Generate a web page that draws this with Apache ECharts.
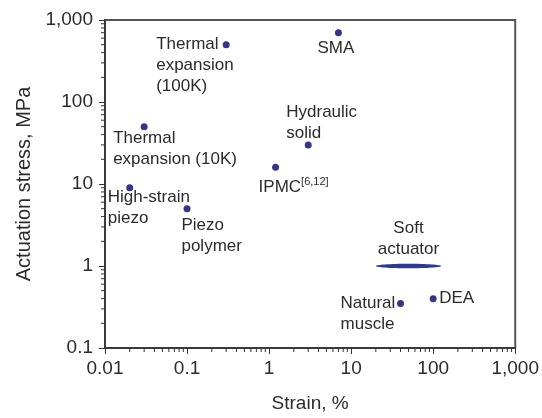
<!DOCTYPE html>
<html>
<head>
<meta charset="utf-8">
<script src="https://cdn.jsdelivr.net/npm/echarts@6/dist/echarts.min.js"></script>
<style>
  html, body { margin: 0; padding: 0; background: #fff; }
  #chart { width: 542px; height: 418px; }
</style>
</head>
<body>
<div id="chart"></div>
<script>
// 材料数据
const names = ['Thermal\nexpansion\n(100K)', 'SMA', 'Hydraulic\nsolid', 'IPMC',
  'Thermal\nexpansion (10K)', 'High-strain\npiezo', 'Piezo\npolymer', 'Natural\nmuscle', 'DEA']
const strain = [0.3, 7, 3, 1.2, 0.03, 0.02, 0.1, 40, 100]
const stress = [500, 700, 30, 16, 50, 9, 5, 0.35, 0.4]

// soft actuator 区间
const softName = 'Soft\nactuator'
const softStrain = [20, 125]
const softStress = 1

// 坐标轴刻度
const xTicks = [0.01, 0.1, 1, 10, 100, 1000]
const yTicks = [0.1, 1, 10, 100, 1000]
const minorMult = [2, 3, 4, 5, 6, 7, 8, 9]

// 标签相对点中心的偏移（左上角）
const labelOffsets = [[-70, -11], [-21, 5.5], [-22, -43], [-17, 9.5],
  [-31, 1.3], [-22, -1], [-5.6, 6], [-60, -10.5], [6, -10.5]]

const font = "'Liberation Sans', Arial, Helvetica, sans-serif"
const textColor = '#2b2b2b'
const dotColor = '#35358e'
const symSize = 7

const xMinor = xTicks.slice(0, -1).flatMap(d => minorMult.map(m => d * m))
const yMinor = yTicks.slice(0, -1).flatMap(d => minorMult.map(m => d * m))

const fmt = v => {
  const n = Number(Number(v).toPrecision(3))
  return n >= 1000 ? n.toLocaleString('en-US') : String(n)
}

const chart = echarts.init(document.getElementById('chart'))

const points = names.map((n, i) => ({
  value: [strain[i], stress[i]],
  label: {
    show: true,
    formatter: i === 3 ? '{a|IPMC}{s|[6,12]}' : n,
    position: [labelOffsets[i][0] + symSize / 2, labelOffsets[i][1] + symSize / 2]
  }
}))

const option = {
  animation: false,
  backgroundColor: '#fff',
  grid: {
    left: 105, right: 25, top: 20, bottom: 65,
    show: true, borderColor: '#555', borderWidth: 2
  },
  xAxis: {
    type: 'log', logBase: 10, min: 0.01, max: 1000,
    name: 'Strain, %', nameLocation: 'middle', nameGap: 46,
    nameTextStyle: { fontSize: 19, color: textColor, fontFamily: font },
    axisLine: { lineStyle: { color: '#333', width: 1.5 } },
    axisTick: { length: 6, lineStyle: { color: '#333' } },
    axisLabel: { fontSize: 19, color: textColor, fontFamily: font, margin: 11, formatter: fmt },
    splitLine: { show: false }
  },
  yAxis: {
    type: 'log', logBase: 10, min: 0.1, max: 1000,
    name: 'Actuation stress, MPa', nameLocation: 'middle', nameGap: 70,
    nameTextStyle: { fontSize: 20, color: textColor, fontFamily: font },
    axisLine: { lineStyle: { color: '#333', width: 1.5 } },
    axisTick: { length: 6, lineStyle: { color: '#333' } },
    axisLabel: { fontSize: 19, color: textColor, fontFamily: font, margin: 12, formatter: fmt },
    splitLine: { show: false }
  },
  series: [
    {
      type: 'scatter',
      symbolSize: symSize,
      itemStyle: { color: dotColor, opacity: 1 },
      label: {
        color: textColor, fontSize: 17, fontFamily: font, lineHeight: 21,
        align: 'left', verticalAlign: 'top',
        rich: {
          a: { fontSize: 17, fontFamily: font, color: textColor, lineHeight: 21 },
          s: { fontSize: 11, fontFamily: font, color: textColor, lineHeight: 14, verticalAlign: 'top' }
        }
      },
      data: points
    },
    {
      // soft actuator 椭圆
      type: 'custom',
      clip: false,
      data: [[softStrain[0], softStress, softStrain[1]]],
      renderItem: (params, api) => {
        const p1 = api.coord([api.value(0), api.value(1)])
        const p2 = api.coord([api.value(2), api.value(1)])
        const cx = (p1[0] + p2[0]) / 2
        return {
          type: 'group',
          children: [
            {
              type: 'ellipse',
              shape: { cx: cx, cy: p1[1], rx: (p2[0] - p1[0]) / 2, ry: 2.3 },
              style: { fill: '#2c3a96' }
            },
            {
              type: 'text',
              x: cx, y: p1[1] - 6,
              style: {
                text: softName, fill: textColor, fontSize: 17, fontFamily: font,
                lineHeight: 21, align: 'center', verticalAlign: 'bottom'
              }
            }
          ]
        }
      }
    },
    {
      // x 轴次刻度
      type: 'custom',
      clip: false,
      z: 5,
      data: xMinor.map(v => [v, 0.1]),
      renderItem: (params, api) => {
        const p = api.coord([api.value(0), api.value(1)])
        return {
          type: 'line',
          shape: { x1: p[0], y1: p[1], x2: p[0], y2: p[1] + 4 },
          style: { stroke: '#333', lineWidth: 1 }
        }
      }
    },
    {
      // y 轴次刻度
      type: 'custom',
      clip: false,
      z: 5,
      data: yMinor.map(v => [0.01, v]),
      renderItem: (params, api) => {
        const p = api.coord([api.value(0), api.value(1)])
        return {
          type: 'line',
          shape: { x1: p[0] - 4, y1: p[1], x2: p[0], y2: p[1] },
          style: { stroke: '#333', lineWidth: 1 }
        }
      }
    }
  ]
}

chart.setOption(option)
</script>
</body>
</html>
